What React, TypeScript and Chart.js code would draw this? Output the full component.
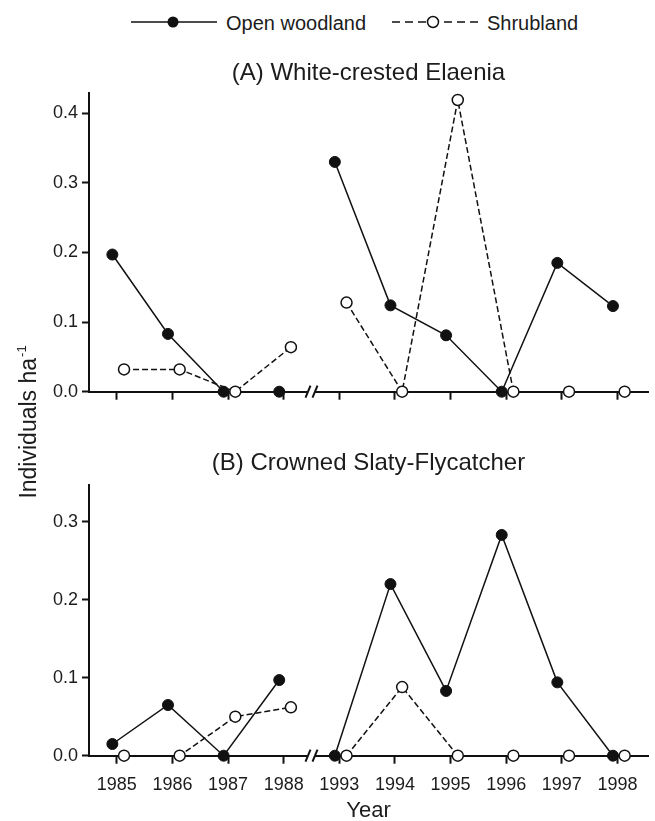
import React, { useEffect, useRef } from 'react';
import { Chart, registerables } from 'chart.js';

Chart.register(...registerables);

// ---------- data ----------
const years = ['1985', '1986', '1987', '1988', '1993', '1994', '1995', '1996', '1997', '1998'];
const seriesNames = ['Open woodland', 'Shrubland'];
const panelTitles = ['(A) White-crested Elaenia', '(B) Crowned Slaty-Flycatcher'];
const xAxisTitle = 'Year';
const yAxisTitle = 'Individuals ha';
const yAxisTitleSup = '-1';

const woodlandA = [0.197, 0.083, 0, 0, 0.33, 0.124, 0.081, 0, 0.185, 0.123];
const shrublandA = [0.032, 0.032, 0, 0.064, 0.128, 0, 0.419, 0, 0, 0];
const woodlandB = [0.015, 0.065, 0, 0.097, 0, 0.22, 0.083, 0.283, 0.094, 0];
const shrublandB = [0, 0, 0.05, 0.062, 0, 0.088, 0, 0, 0, 0];

const yTicksA = [0, 0.1, 0.2, 0.3, 0.4];
const yTicksB = [0, 0.1, 0.2, 0.3];
const yMaxA = 0.429;
const yMaxB = 0.347;

// ---------- style ----------
const FONT = '"Liberation Sans", Arial, Helvetica, sans-serif';
const INK = '#111111';
const TEXT = '#1c1c1c';
const WOOD_DX = -0.08; // small horizontal dodge of the series
const SHRUB_DX = 0.13;

Chart.defaults.font.family = FONT;
Chart.defaults.color = TEXT;

const isBreak = (i: number) => i > 0 && Number(years[i]) - Number(years[i - 1]) > 1;

function toPoints(values: number[], dx: number) {
  const pts: { x: number; y: number | null }[] = [];
  values.forEach((v, i) => {
    if (isBreak(i)) pts.push({ x: i - 0.5, y: null });
    pts.push({ x: i + dx, y: v });
  });
  return pts;
}

const axisBreak = {
  id: 'axisBreak',
  afterDraw(chart: any) {
    const { ctx, chartArea, scales } = chart;
    const y = chartArea.bottom;
    years.forEach((_, i) => {
      if (!isBreak(i)) return;
      const x = scales.x.getPixelForValue(i - 0.5);
      ctx.save();
      ctx.fillStyle = '#ffffff';
      ctx.fillRect(x - 3.5, y - 2, 7, 4);
      ctx.strokeStyle = INK;
      ctx.lineWidth = 2;
      [-3.5, 3.5].forEach((d) => {
        ctx.beginPath();
        ctx.moveTo(x + d - 2.5, y + 6);
        ctx.lineTo(x + d + 2.5, y - 6);
        ctx.stroke();
      });
      ctx.restore();
    });
  },
};

function makeConfig(opts: {
  woodland: number[];
  shrubland: number[];
  yTicks: number[];
  yMax: number;
  title: string;
  showX: boolean;
  titlePad: { top: number; bottom: number };
  xHeight: number;
}): any {
  return {
    type: 'line',
    data: {
      datasets: [
        {
          label: seriesNames[1],
          data: toPoints(opts.shrubland, SHRUB_DX),
          borderColor: INK,
          borderWidth: 1.5,
          borderDash: [6, 3],
          pointRadius: 5.5,
          pointBorderWidth: 1.5,
          pointBackgroundColor: '#ffffff',
          pointBorderColor: INK,
          tension: 0,
          clip: false,
          order: 0,
        },
        {
          label: seriesNames[0],
          data: toPoints(opts.woodland, WOOD_DX),
          borderColor: INK,
          borderWidth: 1.5,
          pointRadius: 5.5,
          pointBorderWidth: 1,
          pointBackgroundColor: INK,
          pointBorderColor: INK,
          tension: 0,
          clip: false,
          order: 1,
        },
      ],
    },
    options: {
      responsive: false,
      animation: false,
      events: [],
      layout: { padding: 0 },
      plugins: {
        legend: { display: false },
        tooltip: { enabled: false },
        title: {
          display: true,
          text: opts.title,
          fullSize: false,
          color: TEXT,
          font: { size: 24, weight: 'normal', lineHeight: 1.2 },
          padding: opts.titlePad,
        },
      },
      scales: {
        x: {
          type: 'linear',
          min: -0.5,
          max: 9.55,
          afterBuildTicks: (s: any) => {
            s.ticks = years.map((_, i) => ({ value: i }));
          },
          afterFit: (s: any) => {
            s.height = opts.xHeight;
          },
          grid: {
            display: true,
            drawOnChartArea: false,
            drawTicks: true,
            tickLength: 8,
            tickWidth: 2,
            tickColor: INK,
          },
          border: { display: true, color: INK, width: 2 },
          ticks: {
            autoSkip: false,
            maxRotation: 0,
            padding: 11,
            color: TEXT,
            font: { size: 18 },
            callback: (_v: any, i: number) => (opts.showX ? years[i] : ''),
          },
          title: opts.showX
            ? {
                display: true,
                text: xAxisTitle,
                color: TEXT,
                font: { size: 22, lineHeight: 1 },
                padding: 0,
              }
            : { display: false },
        },
        y: {
          min: 0,
          max: opts.yMax,
          afterBuildTicks: (s: any) => {
            s.ticks = opts.yTicks.map((v) => ({ value: v }));
          },
          afterFit: (s: any) => {
            s.width = 89;
          },
          grid: {
            display: true,
            drawOnChartArea: false,
            drawTicks: true,
            tickLength: 7,
            tickWidth: 2,
            tickColor: INK,
          },
          border: { display: true, color: INK, width: 2 },
          ticks: {
            padding: 4,
            color: TEXT,
            font: { size: 18 },
            callback: (v: any) => Number(v).toFixed(1),
          },
        },
      },
    },
    plugins: [axisBreak],
  };
}

export default function App() {
  const topRef = useRef<HTMLCanvasElement | null>(null);
  const botRef = useRef<HTMLCanvasElement | null>(null);

  useEffect(() => {
    const c1 = new Chart(
      topRef.current as HTMLCanvasElement,
      makeConfig({
        woodland: woodlandA,
        shrubland: shrublandA,
        yTicks: yTicksA,
        yMax: yMaxA,
        title: panelTitles[0],
        showX: false,
        titlePad: { top: 13.6, bottom: 5.6 },
        xHeight: 33.3,
      })
    );
    const c2 = new Chart(
      botRef.current as HTMLCanvasElement,
      makeConfig({
        woodland: woodlandB,
        shrubland: shrublandB,
        yTicks: yTicksB,
        yMax: yMaxB,
        title: panelTitles[1],
        showX: true,
        titlePad: { top: 18.6, bottom: 7.6 },
        xHeight: 66.3,
      })
    );
    return () => {
      c1.destroy();
      c2.destroy();
    };
  }, []);

  return (
    <div
      style={{
        position: 'absolute',
        left: 0,
        top: 0,
        width: 655,
        height: 821,
        overflow: 'hidden',
        background: '#ffffff',
        fontFamily: FONT,
        color: TEXT,
      }}
    >
      <svg width={655} height={45} style={{ position: 'absolute', left: 0, top: 0 }}>
        <line x1={131} y1={22} x2={217} y2={22} stroke={INK} strokeWidth={1.5} />
        <circle cx={173} cy={22} r={5.5} fill={INK} />
        <text x={226} y={29.5} fontSize={20} fill={TEXT} fontFamily={FONT}>
          {seriesNames[0]}
        </text>
        <line x1={392} y1={22} x2={483} y2={22} stroke={INK} strokeWidth={1.5} strokeDasharray="8,5" />
        <circle cx={433} cy={22} r={5.5} fill="#ffffff" stroke={INK} strokeWidth={1.5} />
        <text x={487} y={29.5} fontSize={20} fill={TEXT} fontFamily={FONT}>
          {seriesNames[1]}
        </text>
      </svg>
      <canvas
        ref={topRef}
        width={655}
        height={380}
        style={{ position: 'absolute', left: 0, top: 45, width: 655, height: 380 }}
      />
      <canvas
        ref={botRef}
        width={655}
        height={392}
        style={{ position: 'absolute', left: 0, top: 430, width: 655, height: 392 }}
      />
      <div
        style={{
          position: 'absolute',
          left: 28 - 110,
          top: 422 - 15,
          width: 220,
          height: 30,
          lineHeight: '30px',
          fontSize: 23,
          textAlign: 'center',
          whiteSpace: 'nowrap',
          transform: 'rotate(-90deg)',
        }}
      >
        {yAxisTitle}
        <span style={{ fontSize: 13, position: 'relative', top: -10, marginLeft: 1 }}>{yAxisTitleSup}</span>
      </div>
    </div>
  );
}
